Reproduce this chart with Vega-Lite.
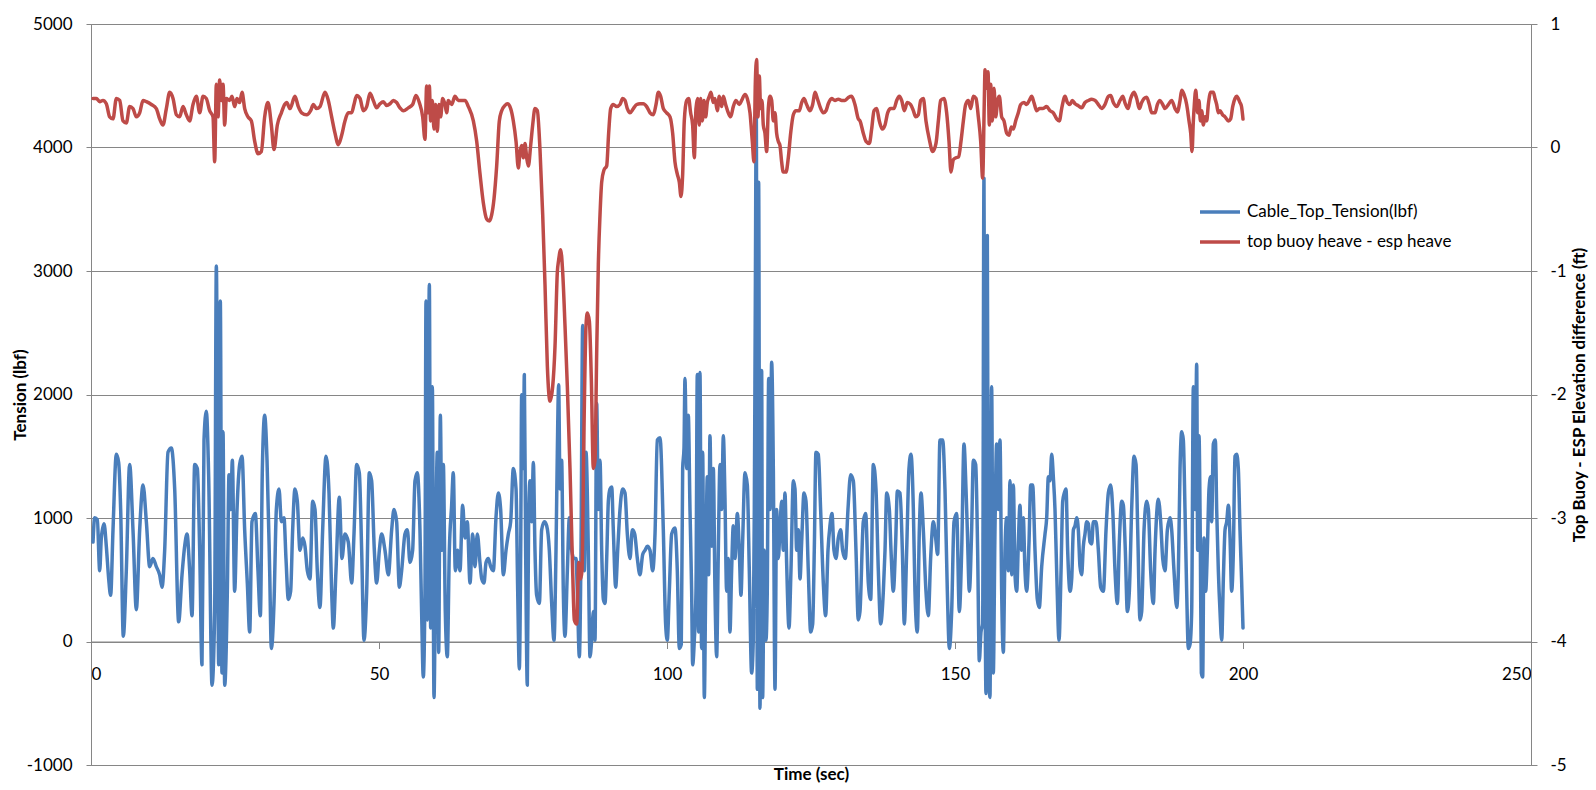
{
  "$schema": "https://vega.github.io/schema/vega-lite/v6.json",
  "description": "Cable top tension and top buoy / ESP heave difference over time",
  "width": 1440,
  "height": 741,
  "autosize": "none",
  "padding": {"left": 91, "top": 24, "right": 65, "bottom": 25},
  "background": "white",
  "config": {
    "font": "Lato",
    "view": {"stroke": "#868686", "strokeWidth": 1},
    "axis": {
      "domainColor": "#868686",
      "tickColor": "#868686",
      "gridColor": "#868686",
      "labelColor": "#000000",
      "labelFont": "Lato",
      "labelFontSize": 17,
      "titleColor": "#000000",
      "titleFont": "Lato",
      "titleFontSize": 17,
      "titleFontWeight": "bold",
      "zindex": 0
    }
  },
  "datasets": {
    "tension": [
      {"t":0.35,"v":805},{"t":0.64,"v":1003},{"t":1.10,"v":987},{"t":1.51,"v":573},{"t":1.79,"v":838},{"t":2.26,"v":954},{"t":2.66,"v":771},{"t":3.07,"v":507},{"t":3.41,"v":374},{"t":3.82,"v":904},{"t":4.40,"v":1516},{"t":4.80,"v":1450},{"t":5.15,"v":1069},{"t":5.61,"v":43},{"t":6.13,"v":573},{"t":6.71,"v":1434},{"t":7.29,"v":904},{"t":7.87,"v":258},{"t":8.45,"v":904},{"t":9.03,"v":1268},{"t":9.61,"v":970},{"t":10.19,"v":606},{"t":10.76,"v":672},{"t":11.34,"v":606},{"t":11.92,"v":540},{"t":12.33,"v":440},{"t":12.79,"v":738},{"t":13.37,"v":1533},{"t":13.95,"v":1566},{"t":14.53,"v":1235},{"t":15.22,"v":159},{"t":15.80,"v":540},{"t":16.26,"v":771},{"t":16.67,"v":871},{"t":17.13,"v":573},{"t":17.54,"v":209},{"t":18.00,"v":1434},{"t":18.46,"v":1400},{"t":18.87,"v":738},{"t":19.27,"v":-189},{"t":19.62,"v":1632},{"t":20.02,"v":1864},{"t":20.43,"v":1334},{"t":21.01,"v":-354},{"t":21.47,"v":242},{"t":21.76,"v":3040},{"t":22.17,"v":-189},{"t":22.45,"v":2758},{"t":22.74,"v":-255},{"t":22.92,"v":1699},{"t":23.21,"v":-354},{"t":23.67,"v":407},{"t":23.96,"v":1351},{"t":24.25,"v":1069},{"t":24.54,"v":1467},{"t":24.94,"v":407},{"t":25.35,"v":1069},{"t":25.81,"v":1434},{"t":26.22,"v":1500},{"t":26.68,"v":904},{"t":27.14,"v":473},{"t":27.55,"v":76},{"t":27.95,"v":970},{"t":28.53,"v":1036},{"t":28.99,"v":573},{"t":29.40,"v":209},{"t":29.75,"v":1400},{"t":30.15,"v":1831},{"t":30.56,"v":1467},{"t":31.02,"v":573},{"t":31.31,"v":-56},{"t":31.77,"v":308},{"t":32.18,"v":1069},{"t":32.64,"v":1235},{"t":33.05,"v":970},
      {"t":33.50,"v":1003},{"t":33.85,"v":672},{"t":34.26,"v":341},{"t":34.66,"v":407},{"t":35.01,"v":904},{"t":35.41,"v":1235},{"t":35.82,"v":1136},{"t":36.28,"v":738},{"t":36.75,"v":838},{"t":37.15,"v":771},{"t":37.56,"v":573},{"t":38.02,"v":507},{"t":38.48,"v":1136},{"t":38.89,"v":1069},{"t":39.29,"v":573},{"t":39.75,"v":275},{"t":40.22,"v":904},{"t":40.80,"v":1500},{"t":41.32,"v":1202},{"t":41.78,"v":407},{"t":42.07,"v":109},{"t":42.53,"v":573},{"t":43.11,"v":1169},{"t":43.57,"v":672},{"t":44.09,"v":871},{"t":44.67,"v":805},{"t":45.25,"v":473},{"t":45.66,"v":871},{"t":46.12,"v":1434},{"t":46.58,"v":1367},{"t":46.99,"v":738},{"t":47.39,"v":10},{"t":47.86,"v":407},{"t":48.32,"v":1367},{"t":48.72,"v":1301},{"t":49.19,"v":738},{"t":49.59,"v":473},{"t":50.06,"v":738},{"t":50.46,"v":871},{"t":51.04,"v":738},{"t":51.62,"v":540},{"t":52.20,"v":904},{"t":52.60,"v":1069},{"t":53.06,"v":970},{"t":53.53,"v":440},{"t":53.93,"v":573},{"t":54.51,"v":871},{"t":54.92,"v":904},{"t":55.38,"v":639},{"t":55.84,"v":738},{"t":56.25,"v":1301},{"t":56.65,"v":1367},{"t":57.11,"v":904},{"t":57.40,"v":242},{"t":57.69,"v":-288},{"t":57.98,"v":407},{"t":58.16,"v":2758},{"t":58.39,"v":175},{"t":58.74,"v":2890},{"t":58.97,"v":109},{"t":59.26,"v":2063},{"t":59.55,"v":-454},{"t":59.84,"v":738},{"t":60.12,"v":1533},{"t":60.36,"v":-89},{"t":60.65,"v":1831},{"t":60.94,"v":738},{"t":61.17,"v":1434},{"t":61.51,"v":242},{"t":61.86,"v":-123},{"t":62.21,"v":738},{"t":62.61,"v":1103},{"t":62.90,"v":1367},{"t":63.25,"v":573},{"t":63.65,"v":738},{"t":64.06,"v":573},{"t":64.52,"v":1103},{"t":64.93,"v":838},{"t":65.33,"v":970},{"t":65.80,"v":473},{"t":66.26,"v":871},{"t":66.66,"v":606},{"t":67.07,"v":871},{"t":67.53,"v":639},
      {"t":67.83,"v":507},{"t":68.23,"v":473},{"t":68.58,"v":639},{"t":68.98,"v":672},{"t":69.39,"v":606},{"t":69.85,"v":573},{"t":70.31,"v":1003},{"t":70.72,"v":1202},{"t":71.12,"v":1069},{"t":71.59,"v":540},{"t":72.05,"v":738},{"t":72.46,"v":871},{"t":72.86,"v":970},{"t":73.32,"v":1400},{"t":73.79,"v":1235},{"t":74.08,"v":407},{"t":74.36,"v":-222},{"t":74.60,"v":738},{"t":74.77,"v":1997},{"t":75.06,"v":1400},{"t":75.23,"v":2162},{"t":75.46,"v":738},{"t":75.75,"v":-354},{"t":75.99,"v":1069},{"t":76.22,"v":1301},{"t":76.51,"v":970},{"t":76.80,"v":1450},{"t":77.08,"v":738},{"t":77.37,"v":374},{"t":77.84,"v":308},{"t":78.24,"v":904},{"t":78.71,"v":970},{"t":79.11,"v":937},{"t":79.57,"v":738},{"t":79.98,"v":308},{"t":80.38,"v":10},{"t":80.73,"v":738},{"t":80.96,"v":1533},{"t":81.19,"v":2079},{"t":81.43,"v":1235},{"t":81.71,"v":1467},{"t":82.00,"v":407},{"t":82.29,"v":43},{"t":82.70,"v":573},{"t":83.05,"v":1003},{"t":83.45,"v":738},{"t":83.86,"v":672},{"t":84.20,"v":672},{"t":84.43,"v":407},{"t":84.78,"v":-123},{"t":85.07,"v":738},{"t":85.36,"v":2559},{"t":85.65,"v":573},{"t":85.94,"v":1533},{"t":86.34,"v":738},{"t":86.63,"v":-123},{"t":86.92,"v":10},{"t":87.21,"v":242},{"t":87.50,"v":10},{"t":87.79,"v":1930},{"t":88.08,"v":1069},{"t":88.37,"v":1467},{"t":88.66,"v":738},{"t":88.95,"v":341},{"t":89.24,"v":308},{"t":89.53,"v":672},{"t":89.82,"v":1136},{"t":90.11,"v":1235},{"t":90.40,"v":1251},{"t":90.68,"v":904},{"t":91.09,"v":440},{"t":91.44,"v":738},{"t":91.84,"v":1069},{"t":92.30,"v":1235},{"t":92.71,"v":1202},{"t":93.11,"v":871},{"t":93.58,"v":672},{"t":93.98,"v":904},{"t":94.39,"v":871},{"t":94.85,"v":672},{"t":95.31,"v":540},{"t":95.78,"v":705},{"t":96.18,"v":738},{"t":96.59,"v":771},{"t":97.05,"v":738},{"t":97.51,"v":573},{"t":97.92,"v":871},{"t":98.32,"v":1632},{"t":98.79,"v":1649},
      {"t":99.36,"v":904},{"t":99.76,"v":142},{"t":100.05,"v":10},{"t":100.40,"v":407},{"t":100.81,"v":871},{"t":101.38,"v":920},{"t":101.79,"v":573},{"t":102.14,"v":-56},{"t":102.48,"v":-23},{"t":102.72,"v":1400},{"t":102.95,"v":1566},{"t":103.12,"v":2129},{"t":103.41,"v":1400},{"t":103.70,"v":1831},{"t":103.99,"v":1069},{"t":104.28,"v":407},{"t":104.45,"v":-189},{"t":104.74,"v":10},{"t":105.03,"v":407},{"t":105.26,"v":2162},{"t":105.49,"v":76},{"t":105.72,"v":2179},{"t":106.01,"v":-56},{"t":106.19,"v":1533},{"t":106.48,"v":-454},{"t":106.71,"v":407},{"t":107.00,"v":1334},{"t":107.23,"v":540},{"t":107.46,"v":1665},{"t":107.75,"v":771},{"t":108.04,"v":1400},{"t":108.33,"v":407},{"t":108.62,"v":-123},{"t":108.91,"v":738},{"t":109.20,"v":1434},{"t":109.49,"v":1069},{"t":109.78,"v":1665},{"t":110.06,"v":1169},{"t":110.35,"v":407},{"t":110.64,"v":672},{"t":110.93,"v":76},{"t":111.22,"v":573},{"t":111.51,"v":937},{"t":111.80,"v":672},{"t":112.21,"v":1036},{"t":112.55,"v":738},{"t":112.84,"v":374},{"t":113.13,"v":805},{"t":113.54,"v":1367},{"t":113.94,"v":1268},{"t":114.29,"v":573},{"t":114.69,"v":-255},{"t":114.98,"v":10},{"t":115.16,"v":1069},{"t":115.33,"v":2725},{"t":115.50,"v":4300},{"t":115.68,"v":-387},{"t":115.91,"v":3718},{"t":116.14,"v":-540},{"t":116.43,"v":2195},{"t":116.60,"v":-454},{"t":116.89,"v":738},{"t":117.18,"v":10},{"t":117.41,"v":407},{"t":117.65,"v":2129},{"t":117.88,"v":1069},{"t":118.17,"v":2261},{"t":118.46,"v":1400},{"t":118.75,"v":-387},{"t":119.03,"v":1069},{"t":119.32,"v":672},{"t":119.61,"v":904},{"t":119.90,"v":1136},{"t":120.19,"v":738},{"t":120.48,"v":1202},{"t":120.77,"v":639},{"t":121.18,"v":109},{"t":121.52,"v":573},{"t":121.93,"v":1301},{"t":122.22,"v":1235},{"t":122.51,"v":738},{"t":122.80,"v":904},{"t":123.09,"v":507},{"t":123.38,"v":805},{"t":123.78,"v":1202},{"t":124.13,"v":1136},{"t":124.53,"v":573},{"t":124.94,"v":76},{"t":125.29,"v":142},{"t":125.57,"v":738},{"t":125.86,"v":1533},{"t":126.27,"v":1516},{"t":126.67,"v":1069},{"t":127.14,"v":473},{"t":127.54,"v":209},{"t":127.95,"v":738},{"t":128.29,"v":937},{"t":128.64,"v":1036},{"t":128.99,"v":738},{"t":129.34,"v":672},{"t":129.74,"v":838},{"t":130.15,"v":904},{"t":130.49,"v":738},{"t":130.96,"v":672},{"t":131.42,"v":1069},{"t":131.88,"v":1351},{"t":132.35,"v":1301},{"t":132.81,"v":738},{"t":133.21,"v":175},{"t":133.50,"v":242},
      {"t":134.08,"v":970},{"t":134.49,"v":1036},{"t":134.95,"v":473},{"t":135.36,"v":341},{"t":135.82,"v":1434},{"t":136.28,"v":1235},{"t":136.69,"v":573},{"t":137.09,"v":142},{"t":137.56,"v":407},{"t":137.85,"v":738},{"t":138.14,"v":1202},{"t":138.60,"v":1069},{"t":138.89,"v":738},{"t":139.29,"v":407},{"t":139.70,"v":805},{"t":139.99,"v":1218},{"t":140.45,"v":1202},{"t":140.86,"v":738},{"t":141.20,"v":142},{"t":141.61,"v":738},{"t":142.01,"v":1400},{"t":142.36,"v":1516},{"t":142.77,"v":1069},{"t":143.05,"v":407},{"t":143.46,"v":76},{"t":143.81,"v":904},{"t":144.10,"v":1202},{"t":144.50,"v":904},{"t":144.96,"v":407},{"t":145.37,"v":209},{"t":145.77,"v":672},{"t":146.24,"v":970},{"t":146.64,"v":838},{"t":146.99,"v":705},{"t":147.39,"v":1632},{"t":147.86,"v":1632},{"t":148.26,"v":1235},{"t":148.67,"v":407},{"t":149.02,"v":-56},{"t":149.42,"v":242},{"t":149.83,"v":970},{"t":150.29,"v":1036},{"t":150.75,"v":242},{"t":151.16,"v":738},{"t":151.56,"v":1599},{"t":151.91,"v":1235},{"t":152.14,"v":904},{"t":152.49,"v":407},{"t":152.89,"v":904},{"t":153.18,"v":1467},{"t":153.59,"v":1434},{"t":153.93,"v":738},{"t":154.22,"v":-156},{"t":154.51,"v":76},{"t":154.80,"v":142},{"t":155.03,"v":3751},{"t":155.21,"v":738},{"t":155.38,"v":-421},{"t":155.61,"v":3288},{"t":155.79,"v":242},{"t":156.07,"v":-454},{"t":156.36,"v":2063},{"t":156.65,"v":-255},{"t":156.94,"v":904},{"t":157.23,"v":1599},{"t":157.52,"v":1069},{"t":157.81,"v":1632},{"t":158.10,"v":407},{"t":158.39,"v":-89},{"t":158.68,"v":738},{"t":158.97,"v":1003},{"t":159.26,"v":573},{"t":159.55,"v":1301},{"t":159.84,"v":540},{"t":160.13,"v":1268},{"t":160.42,"v":540},{"t":160.71,"v":407},{"t":161.00,"v":805},{"t":161.28,"v":1103},{"t":161.57,"v":738},{"t":161.86,"v":1003},{"t":162.15,"v":573},{"t":162.44,"v":407},{"t":162.85,"v":805},{"t":163.14,"v":1268},{"t":163.48,"v":1268},{"t":163.89,"v":738},{"t":164.29,"v":341},{"t":164.64,"v":275},
      {"t":165.05,"v":606},{"t":165.63,"v":871},{"t":165.92,"v":1003},{"t":166.21,"v":1334},{"t":166.50,"v":1301},{"t":166.79,"v":1516},{"t":167.07,"v":1334},{"t":167.36,"v":1069},{"t":167.65,"v":573},{"t":168.06,"v":10},{"t":168.41,"v":573},{"t":168.70,"v":1136},{"t":168.98,"v":1202},{"t":169.27,"v":1235},{"t":169.56,"v":738},{"t":169.97,"v":407},{"t":170.26,"v":507},{"t":170.55,"v":904},{"t":170.84,"v":937},{"t":171.13,"v":1003},{"t":171.41,"v":904},{"t":171.70,"v":606},{"t":171.99,"v":540},{"t":172.28,"v":771},{"t":172.57,"v":871},{"t":172.86,"v":970},{"t":173.15,"v":954},{"t":173.44,"v":805},{"t":173.73,"v":790},{"t":174.02,"v":970},{"t":174.48,"v":970},{"t":174.89,"v":738},{"t":175.29,"v":440},{"t":175.76,"v":407},{"t":176.22,"v":904},{"t":176.62,"v":1202},{"t":177.03,"v":1268},{"t":177.38,"v":1069},{"t":177.78,"v":573},{"t":178.19,"v":308},{"t":178.53,"v":805},{"t":178.94,"v":1136},{"t":179.23,"v":1103},{"t":179.57,"v":738},{"t":179.92,"v":242},{"t":180.27,"v":407},{"t":180.67,"v":1069},{"t":181.08,"v":1500},{"t":181.43,"v":1434},{"t":181.72,"v":904},{"t":182.12,"v":175},{"t":182.41,"v":242},{"t":182.82,"v":904},{"t":183.28,"v":1136},{"t":183.57,"v":1069},{"t":183.97,"v":573},{"t":184.44,"v":308},{"t":184.73,"v":738},{"t":185.02,"v":1036},{"t":185.30,"v":1152},{"t":185.71,"v":970},{"t":186.06,"v":672},{"t":186.46,"v":573},{"t":186.87,"v":904},{"t":187.33,"v":1003},{"t":187.62,"v":904},{"t":188.02,"v":573},{"t":188.49,"v":275},{"t":188.78,"v":573},{"t":189.07,"v":1400},{"t":189.36,"v":1699},{"t":189.64,"v":1632},{"t":189.93,"v":1069},{"t":190.22,"v":407},{"t":190.51,"v":-56},{"t":190.80,"v":-23},{"t":191.09,"v":242},{"t":191.38,"v":2063},{"t":191.67,"v":1069},{"t":191.96,"v":2245},{"t":192.13,"v":738},{"t":192.36,"v":1665},{"t":192.60,"v":738},{"t":192.77,"v":-255},{"t":193.00,"v":-288},{"t":193.23,"v":838},{"t":193.52,"v":407},{"t":193.81,"v":738},{"t":194.10,"v":1235},{"t":194.39,"v":1334},{"t":194.56,"v":970},{"t":194.85,"v":1599},{"t":195.20,"v":1632},{"t":195.43,"v":1069},{"t":195.72,"v":573},{"t":196.01,"v":242},{"t":196.30,"v":10},{"t":196.59,"v":507},{"t":196.88,"v":904},{"t":197.17,"v":970},{"t":197.46,"v":1103},{"t":197.75,"v":838},{"t":198.03,"v":407},{"t":198.33,"v":738},{"t":198.61,"v":1500},{"t":198.90,"v":1516},{"t":199.19,"v":1400},{"t":199.48,"v":900},{"t":199.75,"v":507},{"t":200.00,"v":109}
    ],
    "heave": [
      {"t":0.35,"v":0.397},{"t":0.93,"v":0.397},{"t":1.51,"v":0.371},{"t":2.08,"v":0.381},{"t":2.66,"v":0.354},{"t":3.24,"v":0.248},{"t":3.82,"v":0.232},{"t":4.40,"v":0.397},{"t":4.98,"v":0.381},{"t":5.56,"v":0.215},{"t":6.13,"v":0.199},{"t":6.71,"v":0.331},{"t":7.29,"v":0.315},{"t":7.87,"v":0.248},{"t":8.45,"v":0.281},{"t":9.03,"v":0.381},{"t":9.61,"v":0.371},{"t":10.48,"v":0.348},{"t":11.34,"v":0.315},{"t":11.92,"v":0.232},{"t":12.50,"v":0.182},{"t":13.08,"v":0.315},{"t":13.66,"v":0.447},{"t":14.24,"v":0.397},{"t":14.82,"v":0.265},{"t":15.39,"v":0.248},{"t":15.97,"v":0.331},{"t":16.55,"v":0.265},{"t":17.13,"v":0.215},{"t":17.71,"v":0.348},{"t":18.29,"v":0.414},{"t":18.87,"v":0.281},{"t":19.45,"v":0.414},{"t":20.02,"v":0.397},{"t":20.60,"v":0.298},{"t":21.18,"v":0.248},{"t":21.47,"v":-0.116},{"t":21.76,"v":0.513},{"t":22.05,"v":0.248},{"t":22.34,"v":0.546},{"t":22.63,"v":0.381},{"t":22.92,"v":0.513},{"t":23.21,"v":0.182},{"t":23.50,"v":0.397},{"t":24.07,"v":0.381},{"t":24.48,"v":0.414},{"t":24.94,"v":0.331},{"t":25.35,"v":0.397},{"t":25.81,"v":0.364},{"t":26.22,"v":0.447},{"t":26.68,"v":0.315},{"t":27.26,"v":0.248},{"t":27.84,"v":0.215},{"t":28.42,"v":0.050},{"t":28.99,"v":-0.050},{"t":29.57,"v":-0.033},{"t":30.15,"v":0.248},{"t":30.73,"v":0.364},{"t":31.31,"v":0.182},{"t":31.77,"v":-0.017},{"t":32.35,"v":0.182},{"t":33.05,"v":0.281},{"t":33.62,"v":0.348},
      {"t":33.97,"v":0.364},{"t":34.55,"v":0.315},{"t":35.41,"v":0.414},{"t":35.99,"v":0.331},{"t":36.57,"v":0.281},{"t":37.44,"v":0.265},{"t":38.13,"v":0.298},{"t":38.60,"v":0.348},{"t":39.17,"v":0.315},{"t":39.75,"v":0.331},{"t":40.62,"v":0.447},{"t":41.20,"v":0.381},{"t":41.78,"v":0.248},{"t":42.36,"v":0.116},{"t":42.94,"v":0.023},{"t":43.52,"v":0.099},{"t":44.09,"v":0.215},{"t":44.67,"v":0.281},{"t":45.25,"v":0.281},{"t":45.66,"v":0.348},{"t":46.12,"v":0.421},{"t":46.70,"v":0.397},{"t":47.28,"v":0.298},{"t":47.86,"v":0.331},{"t":48.44,"v":0.440},{"t":49.01,"v":0.381},{"t":49.59,"v":0.321},{"t":50.17,"v":0.354},{"t":50.75,"v":0.371},{"t":51.33,"v":0.341},{"t":51.91,"v":0.354},{"t":52.49,"v":0.381},{"t":53.06,"v":0.364},{"t":53.64,"v":0.321},{"t":54.22,"v":0.298},{"t":55.09,"v":0.321},{"t":55.84,"v":0.348},{"t":56.42,"v":0.421},{"t":57.00,"v":0.364},{"t":57.58,"v":0.248},{"t":57.98,"v":0.066},{"t":58.27,"v":0.497},{"t":58.56,"v":0.281},{"t":58.74,"v":0.497},{"t":58.97,"v":0.215},{"t":59.26,"v":0.381},{"t":59.55,"v":0.149},{"t":59.84,"v":0.348},{"t":60.12,"v":0.132},{"t":60.41,"v":0.348},{"t":60.70,"v":0.248},{"t":61.05,"v":0.397},{"t":61.46,"v":0.348},{"t":61.75,"v":0.281},{"t":62.04,"v":0.381},{"t":62.61,"v":0.348},{"t":63.19,"v":0.414},{"t":63.77,"v":0.381},{"t":64.35,"v":0.381},{"t":64.93,"v":0.381},{"t":65.51,"v":0.331},
      {"t":66.38,"v":0.215},{"t":66.96,"v":0.050},{"t":67.54,"v":-0.215},{"t":68.11,"v":-0.447},{"t":68.69,"v":-0.579},{"t":69.16,"v":-0.596},{"t":69.56,"v":-0.546},{"t":69.97,"v":-0.414},{"t":70.43,"v":-0.149},{"t":70.89,"v":0.215},{"t":71.30,"v":0.298},{"t":71.88,"v":0.341},{"t":72.28,"v":0.354},{"t":72.86,"v":0.315},{"t":73.32,"v":0.215},{"t":73.79,"v":0.050},{"t":74.19,"v":-0.166},{"t":74.48,"v":-0.033},{"t":74.77,"v":0.017},{"t":75.06,"v":-0.083},{"t":75.35,"v":0.033},{"t":75.64,"v":-0.083},{"t":75.93,"v":-0.149},{"t":76.33,"v":0.017},{"t":76.68,"v":0.182},{"t":77.08,"v":0.315},{"t":77.49,"v":0.298},{"t":77.95,"v":-0.017},{"t":78.42,"v":-0.546},{"t":78.82,"v":-1.109},{"t":79.23,"v":-1.772},{"t":79.69,"v":-2.053},{"t":80.15,"v":-1.937},{"t":80.56,"v":-1.606},{"t":80.96,"v":-1.010},{"t":81.19,"v":-0.911},{"t":81.54,"v":-0.828},{"t":81.89,"v":-1.010},{"t":82.29,"v":-1.440},{"t":82.70,"v":-1.937},{"t":83.16,"v":-2.599},{"t":83.62,"v":-3.427},{"t":83.91,"v":-3.825},{"t":84.32,"v":-3.858},{"t":84.67,"v":-3.361},{"t":85.01,"v":-3.493},{"t":85.24,"v":-3.427},{"t":85.59,"v":-2.268},{"t":85.94,"v":-1.440},{"t":86.17,"v":-1.341},{"t":86.52,"v":-1.407},{"t":86.86,"v":-1.871},{"t":87.21,"v":-2.599},{"t":87.50,"v":-2.533},{"t":87.79,"v":-1.672},{"t":88.08,"v":-0.944},{"t":88.37,"v":-0.546},{"t":88.66,"v":-0.281},{"t":89.06,"v":-0.182},{"t":89.53,"v":-0.149},{"t":89.87,"v":0.116},{"t":90.22,"v":0.315},{"t":90.68,"v":0.348},{"t":91.26,"v":0.331},{"t":91.84,"v":0.348},{"t":92.30,"v":0.397},{"t":92.71,"v":0.381},{"t":93.11,"v":0.315},{"t":93.58,"v":0.281},{"t":94.16,"v":0.315},{"t":94.74,"v":0.348},{"t":95.31,"v":0.354},{"t":95.89,"v":0.354},{"t":96.47,"v":0.331},{"t":97.05,"v":0.281},{"t":97.63,"v":0.265},{"t":98.09,"v":0.348},{"t":98.50,"v":0.447},{"t":98.90,"v":0.414},{"t":99.37,"v":0.315},
      {"t":99.94,"v":0.281},{"t":100.52,"v":0.248},{"t":100.98,"v":0.116},{"t":101.38,"v":-0.116},{"t":101.79,"v":-0.215},{"t":102.14,"v":-0.281},{"t":102.43,"v":-0.397},{"t":102.72,"v":-0.215},{"t":103.00,"v":0.215},{"t":103.41,"v":0.381},{"t":103.76,"v":0.397},{"t":104.10,"v":0.281},{"t":104.45,"v":0.182},{"t":104.74,"v":-0.083},{"t":105.03,"v":0.315},{"t":105.32,"v":0.397},{"t":105.61,"v":0.182},{"t":105.84,"v":0.397},{"t":106.13,"v":0.215},{"t":106.42,"v":0.381},{"t":106.71,"v":0.248},{"t":107.00,"v":0.364},{"t":107.34,"v":0.414},{"t":107.63,"v":0.447},{"t":108.04,"v":0.364},{"t":108.33,"v":0.397},{"t":108.73,"v":0.298},{"t":109.08,"v":0.414},{"t":109.49,"v":0.331},{"t":109.78,"v":0.414},{"t":110.18,"v":0.348},{"t":110.64,"v":0.281},{"t":111.05,"v":0.248},{"t":111.51,"v":0.331},{"t":111.97,"v":0.381},{"t":112.55,"v":0.348},{"t":112.96,"v":0.381},{"t":113.54,"v":0.430},{"t":113.94,"v":0.397},{"t":114.41,"v":0.281},{"t":114.81,"v":0.050},{"t":115.10,"v":-0.116},{"t":115.33,"v":0.513},{"t":115.56,"v":0.712},{"t":115.79,"v":0.248},{"t":116.02,"v":0.579},{"t":116.26,"v":0.315},{"t":116.49,"v":0.381},{"t":116.72,"v":0.182},{"t":117.01,"v":0.116},{"t":117.30,"v":-0.033},{"t":117.59,"v":0.315},{"t":117.88,"v":0.414},{"t":118.17,"v":0.381},{"t":118.46,"v":0.215},{"t":118.75,"v":0.281},{"t":119.03,"v":0.116},{"t":119.32,"v":0.050},{"t":119.61,"v":0.017},{"t":119.90,"v":-0.116},{"t":120.19,"v":-0.199},{"t":120.66,"v":-0.199},{"t":121.06,"v":-0.083},{"t":121.47,"v":0.116},{"t":121.93,"v":0.265},{"t":122.39,"v":0.298},{"t":122.97,"v":0.298},{"t":123.38,"v":0.364},{"t":123.78,"v":0.397},{"t":124.24,"v":0.348},{"t":124.82,"v":0.298},{"t":125.29,"v":0.348},{"t":125.69,"v":0.447},{"t":126.10,"v":0.397},{"t":126.56,"v":0.331},{"t":127.14,"v":0.281},{"t":127.60,"v":0.298},{"t":128.00,"v":0.354},{"t":128.58,"v":0.397},{"t":129.16,"v":0.381},{"t":129.74,"v":0.391},{"t":130.32,"v":0.381},{"t":130.90,"v":0.381},{"t":131.48,"v":0.404},{"t":132.06,"v":0.414},{"t":132.63,"v":0.348},{"t":133.21,"v":0.232},
      {"t":133.51,"v":0.215},{"t":134.08,"v":0.116},{"t":134.55,"v":0.050},{"t":135.13,"v":0.033},{"t":135.53,"v":0.149},{"t":135.94,"v":0.298},{"t":136.40,"v":0.315},{"t":136.86,"v":0.215},{"t":137.38,"v":0.149},{"t":137.85,"v":0.182},{"t":138.31,"v":0.281},{"t":138.83,"v":0.315},{"t":139.41,"v":0.315},{"t":139.87,"v":0.381},{"t":140.33,"v":0.414},{"t":140.74,"v":0.381},{"t":141.20,"v":0.298},{"t":141.72,"v":0.364},{"t":142.30,"v":0.348},{"t":142.77,"v":0.298},{"t":143.17,"v":0.248},{"t":143.63,"v":0.265},{"t":144.04,"v":0.381},{"t":144.50,"v":0.397},{"t":144.96,"v":0.215},{"t":145.54,"v":0.066},{"t":146.12,"v":-0.033},{"t":146.70,"v":0.033},{"t":147.11,"v":0.215},{"t":147.51,"v":0.381},{"t":148.09,"v":0.397},{"t":148.55,"v":0.281},{"t":148.96,"v":0.050},{"t":149.30,"v":-0.199},{"t":149.71,"v":-0.099},{"t":150.17,"v":-0.083},{"t":150.64,"v":-0.076},{"t":151.04,"v":0.050},{"t":151.45,"v":0.215},{"t":151.85,"v":0.348},{"t":152.31,"v":0.381},{"t":152.72,"v":0.315},{"t":153.18,"v":0.414},{"t":153.65,"v":0.397},{"t":154.05,"v":0.248},{"t":154.46,"v":0.050},{"t":154.80,"v":-0.248},{"t":155.09,"v":0.381},{"t":155.21,"v":0.629},{"t":155.50,"v":0.480},{"t":155.73,"v":0.613},{"t":155.96,"v":0.182},{"t":156.19,"v":0.513},{"t":156.48,"v":0.215},{"t":156.77,"v":0.480},{"t":157.06,"v":0.248},{"t":157.41,"v":0.381},{"t":157.70,"v":0.414},{"t":158.10,"v":0.248},{"t":158.51,"v":0.215},{"t":158.97,"v":0.116},{"t":159.37,"v":0.099},{"t":159.78,"v":0.166},{"t":160.13,"v":0.149},{"t":160.53,"v":0.215},{"t":160.99,"v":0.281},{"t":161.40,"v":0.348},{"t":161.98,"v":0.364},{"t":162.44,"v":0.348},{"t":162.90,"v":0.381},{"t":163.31,"v":0.414},{"t":163.71,"v":0.364},{"t":164.18,"v":0.298},{"t":164.64,"v":0.315},{"t":165.22,"v":0.315},{"t":165.91,"v":0.331},
      {"t":166.50,"v":0.298},{"t":167.07,"v":0.281},{"t":167.65,"v":0.232},{"t":168.12,"v":0.215},{"t":168.52,"v":0.315},{"t":169.10,"v":0.414},{"t":169.51,"v":0.364},{"t":169.97,"v":0.348},{"t":170.37,"v":0.381},{"t":170.84,"v":0.354},{"t":171.41,"v":0.338},{"t":171.99,"v":0.321},{"t":172.57,"v":0.364},{"t":173.15,"v":0.381},{"t":173.73,"v":0.391},{"t":174.31,"v":0.381},{"t":174.89,"v":0.348},{"t":175.47,"v":0.315},{"t":176.04,"v":0.348},{"t":176.62,"v":0.414},{"t":177.03,"v":0.421},{"t":177.49,"v":0.364},{"t":178.07,"v":0.331},{"t":178.65,"v":0.381},{"t":179.11,"v":0.414},{"t":179.57,"v":0.354},{"t":180.04,"v":0.315},{"t":180.50,"v":0.397},{"t":181.08,"v":0.447},{"t":181.54,"v":0.397},{"t":182.01,"v":0.315},{"t":182.41,"v":0.364},{"t":182.82,"v":0.397},{"t":183.28,"v":0.407},{"t":183.74,"v":0.348},{"t":184.15,"v":0.281},{"t":184.73,"v":0.281},{"t":185.13,"v":0.348},{"t":185.59,"v":0.381},{"t":186.06,"v":0.348},{"t":186.46,"v":0.315},{"t":187.04,"v":0.348},{"t":187.62,"v":0.381},{"t":188.20,"v":0.315},{"t":188.60,"v":0.288},{"t":189.07,"v":0.381},{"t":189.36,"v":0.464},{"t":189.76,"v":0.430},{"t":190.22,"v":0.348},{"t":190.63,"v":0.215},{"t":190.92,"v":0.116},{"t":191.15,"v":-0.033},{"t":191.38,"v":0.215},{"t":191.55,"v":0.348},{"t":191.79,"v":0.464},{"t":191.96,"v":0.381},{"t":192.13,"v":0.281},{"t":192.36,"v":0.381},{"t":192.60,"v":0.215},{"t":192.83,"v":0.298},{"t":193.12,"v":0.182},{"t":193.41,"v":0.248},{"t":193.70,"v":0.215},{"t":193.98,"v":0.348},{"t":194.39,"v":0.447},{"t":194.85,"v":0.447},{"t":195.14,"v":0.397},{"t":195.43,"v":0.348},{"t":195.72,"v":0.281},{"t":196.01,"v":0.298},{"t":196.47,"v":0.265},{"t":196.88,"v":0.248},{"t":197.46,"v":0.215},{"t":197.86,"v":0.232},{"t":198.21,"v":0.331},{"t":198.61,"v":0.397},{"t":198.90,"v":0.414},{"t":199.48,"v":0.364},{"t":199.75,"v":0.330},{"t":200.00,"v":0.230}
    ]
  },
  "layer": [
    {
      "data": {"name": "tension"},
      "mark": {"type": "line", "strokeWidth": 3.5, "interpolate": "monotone", "strokeJoin": "round", "strokeCap": "round"},
      "encoding": {
        "x": {
          "field": "t",
          "type": "quantitative",
          "scale": {"domain": [0, 250], "nice": false},
          "axis": {
            "title": "Time (sec)",
            "orient": "bottom",
            "offset": -123.5,
            "values": [0, 50, 100, 150, 200, 250],
            "grid": false,
            "tickSize": 7,
            "labelPadding": 18,
            "titleX": 720,
            "titleY": 133,
            "titleAlign": "center",
            "titleBaseline": "middle"
          }
        },
        "y": {
          "field": "v",
          "type": "quantitative",
          "scale": {"domain": [-1000, 5000], "nice": false, "zero": false},
          "axis": {
            "title": "Tension (lbf)",
            "orient": "left",
            "values": [-1000, 0, 1000, 2000, 3000, 4000, 5000],
            "labelExpr": "'' + datum.value",
            "grid": true,
            "tickSize": 5,
            "labelPadding": 14,
            "titleAngle": 270,
            "titleX": -71,
            "titleY": 370.5,
            "titleAlign": "center",
            "titleBaseline": "middle"
          }
        },
        "color": {
          "datum": "Cable_Top_Tension(lbf)",
          "type": "nominal",
          "scale": {
            "domain": ["Cable_Top_Tension(lbf)", "top buoy heave - esp heave"],
            "range": ["#4A7EBB", "#BE4B48"]
          },
          "legend": {
            "title": null,
            "orient": "none",
            "legendX": 1107,
            "legendY": 166,
            "symbolType": "stroke",
            "symbolStrokeWidth": 3.5,
            "symbolSize": 1600,
            "labelFont": "Lato",
            "labelFontSize": 17,
            "labelColor": "#000000",
            "labelLimit": 0,
            "labelOffset": 5,
            "rowPadding": -2,
            "padding": 0
          }
        }
      }
    },
    {
      "data": {"name": "heave"},
      "mark": {"type": "line", "strokeWidth": 3.5, "interpolate": "monotone", "strokeJoin": "round", "strokeCap": "round"},
      "encoding": {
        "x": {"field": "t", "type": "quantitative"},
        "y": {
          "field": "v",
          "type": "quantitative",
          "scale": {"domain": [-5, 1], "nice": false, "zero": false},
          "axis": {
            "title": "Top Buoy - ESP Elevation difference (ft)",
            "orient": "right",
            "values": [-5, -4, -3, -2, -1, 0, 1],
            "labelExpr": "'' + datum.value",
            "grid": false,
            "tickSize": 6,
            "labelPadding": 13,
            "titleAngle": 270,
            "titleX": 48,
            "titleY": 370.5,
            "titleAlign": "center",
            "titleBaseline": "middle"
          }
        },
        "color": {"datum": "top buoy heave - esp heave", "type": "nominal"}
      }
    }
  ],
  "resolve": {"scale": {"y": "independent"}}
}
